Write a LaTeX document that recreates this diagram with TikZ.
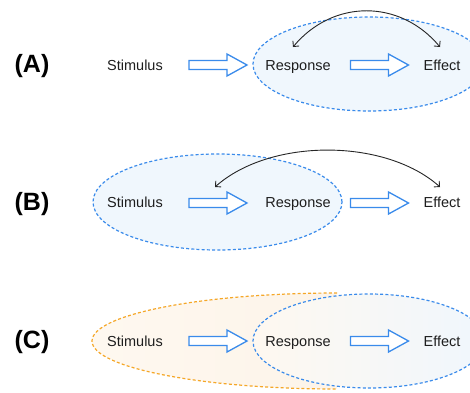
\documentclass[tikz,border=0pt]{standalone}
\usepackage{fontspec}
\setmainfont{Liberation Sans}
\usetikzlibrary{arrows.meta}
\definecolor{dblue}{RGB}{58,139,235}
\definecolor{dorange}{RGB}{245,167,40}
\definecolor{lblue}{RGB}{240,247,253}
\definecolor{lorangeA}{RGB}{254,248,240}
\definecolor{lorangeB}{RGB}{253,244,233}
\definecolor{txt}{RGB}{30,30,30}
\begin{document}
\begin{tikzpicture}[x=1pt,y=1pt,
  word/.style={font=\fontsize{14.5}{16}\selectfont, text=txt, anchor=base, inner sep=0pt},
  lbl/.style={font=\fontsize{25}{28}\selectfont\bfseries, text=black, inner sep=0pt},
  blockarrow/.pic={\draw[draw=dblue, fill=white, line width=1.3pt, line join=miter]
      (0,4.5) -- (38,4.5) -- (38,11) -- (58,0) -- (38,-11) -- (38,-4.5) -- (0,-4.5) -- cycle;},
  dashblue/.style={draw=dblue, line width=1.2pt, dash pattern=on 3pt off 2.2pt},
  dashorange/.style={draw=dorange, line width=1.2pt, dash pattern=on 3pt off 2.2pt},
  curv/.style={draw=black!85, line width=0.9pt, {Straight Barb[length=4pt,width=8pt]}-{Straight Barb[length=4pt,width=8pt]}}
]
\useasboundingbox (0,0) rectangle (470,392);

% ---------- (A) ----------
\draw[dashblue, fill=lblue] (369,328) ellipse [x radius=116, y radius=47];
\node[lbl] (labA) at (32,326) {(A)};
\node[word] (stimA) at (135,322) {Stimulus};
\node[word] (respA) at (298,322) {Response};
\node[word] (effA) at (442,322) {Effect};
\pic (arA1) at (189,327) {blockarrow};
\pic (arA2) at (350.5,327) {blockarrow};
\coordinate (cA1) at (293,345);
\coordinate (cA2) at (440,345);
\draw[curv] (cA1) .. controls (333,393) and (400,393) .. (cA2);

% ---------- (B) ----------
\draw[dashblue, fill=lblue] (217.5,190) ellipse [x radius=124.5, y radius=48];
\node[lbl] (labB) at (32,188) {(B)};
\node[word] (stimB) at (135,184.7) {Stimulus};
\node[word] (respB) at (298,184.7) {Response};
\node[word] (effB) at (442,184.7) {Effect};
\pic (arB1) at (189,189) {blockarrow};
\pic (arB2) at (350.5,189) {blockarrow};
\coordinate (cB1) at (215,205);
\coordinate (cB2) at (440,205);
\draw[curv] (cB1) .. controls (270,254) and (385,254) .. (cB2);

% ---------- (C) ----------
\path[left color=lorangeA, right color=lorangeB] (337,99) arc[start angle=90, end angle=270, x radius=245, y radius=48] -- cycle;
\draw[dashorange] (337,99) arc[start angle=90, end angle=270, x radius=245, y radius=48];
\draw[dashblue, left color=lorangeA, middle color=white, right color=lblue] (369,51) ellipse [x radius=116, y radius=47];
\node[lbl] (labC) at (32,50) {(C)};
\node[word] (stimC) at (135,46) {Stimulus};
\node[word] (respC) at (298,46) {Response};
\node[word] (effC) at (442,46) {Effect};
\pic (arC1) at (189,51) {blockarrow};
\pic (arC2) at (350.5,51) {blockarrow};
\end{tikzpicture}
\end{document}
